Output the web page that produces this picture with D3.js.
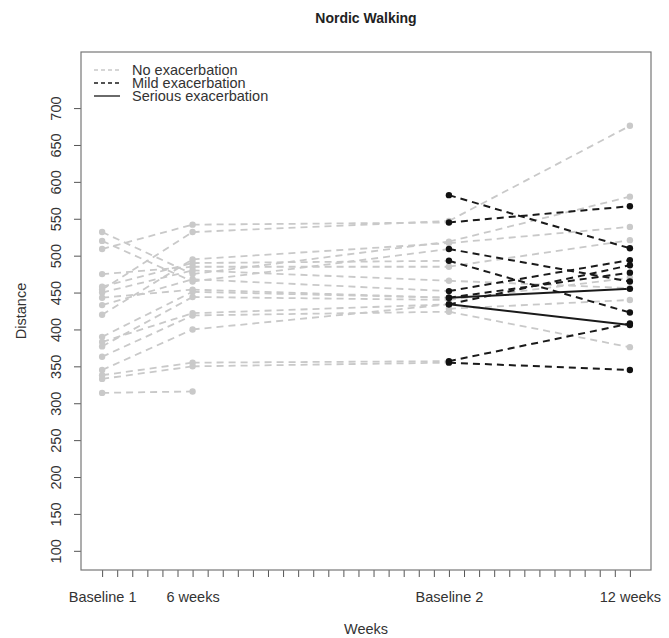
<!DOCTYPE html>
<html>
<head>
  <title>Nordic Walking</title>
<script src="https://d3js.org/d3.v7.min.js"></script>
<style>
  body { margin: 0; background: #fff; }
  text { font-family: "Liberation Sans", Arial, sans-serif; fill: #333; }
</style>
</head>

<body>
<svg width="669" height="638"></svg>
<script>

// weeks on the x axis, one tick per week, labels only on the visits
var weekTicks = d3.range(0, 36);
var visitWeeks = [0, 6, 23, 35];
var visitLabels = ["Baseline 1", "6 weeks", "Baseline 2", "12 weeks"];
var yTicks = [100, 150, 200, 250, 300, 350, 400, 450, 500, 550, 600, 650, 700];

// one entry per participant (null = not measured)
var baseline1   = [509, 454, 532, 520, 420, 458, 475, 450, 433, 443, 390, 377, 383, 363, 345, 338, 333, 314, null, null];
var sixWeeks    = [542, 532, 475, 465, 495, 490, 485, 480, 468, 454, 451, 444, 422, 419, 400, 355, 350, 316, null, null];
var baseline2   = [545, 547, 519, 509, 517, 493, 485, 466, 452, 443, 443, 440, 434, 424, 434, 357, 355, null, 582, 428];
var twelveWeeks = [567, 676, 580, 465, 539, 423, 521, 456, 494, 477, 455, 470, 406, 376, 487, 408, 345, null, 510, 440];
var exacerbation = ["mild", "none", "none", "mild", "none", "mild", "none", "none", "mild", "mild",
                    "serious", "none", "serious", "none", "mild", "mild", "mild", "none", "mild", "none"];

var legendLabels = ["No exacerbation", "Mild exacerbation", "Serious exacerbation"];

var svg = d3.select("svg"),
    boxLeft = 81, boxRight = 651, boxTop = 52, boxBottom = 570;

var x = d3.scaleLinear().domain([-1.4, 36.4]).range([boxLeft, boxRight]);
var y = d3.scaleLinear().domain([74, 776]).range([boxBottom, boxTop]);

var grey = "#c9c9c9";

// title
svg.append("text")
    .attr("x", (boxLeft + boxRight) / 2)
    .attr("y", 23)
    .attr("text-anchor", "middle")
    .style("font-size", "14px")
    .style("font-weight", "bold")
    .style("fill", "#222")
    .text("Nordic Walking");

// axes
var xAxis = d3.axisBottom(x)
    .tickValues(weekTicks)
    .tickSize(7)
    .tickFormat(function(d) {
      var i = visitWeeks.indexOf(d);
      return i < 0 ? "" : visitLabels[i];
    });

var gx = svg.append("g")
    .attr("transform", "translate(0," + boxBottom + ")")
    .call(xAxis);
gx.select(".domain").remove();
gx.selectAll("line").attr("stroke", "#555");
gx.selectAll("text")
    .attr("dy", null)
    .attr("y", 32)
    .style("font-size", "14.5px")
    .style("font-family", "Liberation Sans, Arial, sans-serif")
    .style("fill", "#333");

var yAxis = d3.axisLeft(y).tickValues(yTicks).tickSize(7);
var gy = svg.append("g")
    .attr("transform", "translate(" + boxLeft + ",0)")
    .call(yAxis);
gy.select(".domain").remove();
gy.selectAll("line").attr("stroke", "#555");
gy.selectAll("text")
    .attr("x", null)
    .attr("dy", null)
    .attr("text-anchor", "middle")
    .attr("transform", "translate(-25,0) rotate(-90)")
    .attr("y", 5)
    .style("font-size", "14.5px")
    .style("font-family", "Liberation Sans, Arial, sans-serif")
    .style("fill", "#333");

// axis titles
svg.append("text")
    .attr("x", (boxLeft + boxRight) / 2)
    .attr("y", 634)
    .attr("text-anchor", "middle")
    .style("font-size", "14.5px")
    .text("Weeks");

svg.append("text")
    .attr("transform", "translate(26," + (boxTop + boxBottom) / 2 + ") rotate(-90)")
    .attr("text-anchor", "middle")
    .style("font-size", "14.5px")
    .text("Distance");

// plot box
svg.append("rect")
    .attr("x", boxLeft).attr("y", boxTop)
    .attr("width", boxRight - boxLeft).attr("height", boxBottom - boxTop)
    .attr("fill", "none")
    .attr("stroke", "#777")
    .attr("stroke-width", 1.2);

// segments between consecutive visits
var series = [baseline1, sixWeeks, baseline2, twelveWeeks];
var segments = [];
baseline1.forEach(function(d, p) {
  for (var k = 0; k < 3; k++) {
    var a = series[k][p], b = series[k + 1][p];
    if (a == null || b == null) continue;
    segments.push({x1: visitWeeks[k], y1: a, x2: visitWeeks[k + 1], y2: b,
                   group: k == 2 ? exacerbation[p] : "none"});
  }
});

function segStyle(sel) {
  sel.attr("x1", function(d) { return x(d.x1); })
     .attr("y1", function(d) { return y(d.y1); })
     .attr("x2", function(d) { return x(d.x2); })
     .attr("y2", function(d) { return y(d.y2); })
     .attr("stroke", function(d) { return d.group == "none" ? grey : "#1a1a1a"; })
     .attr("stroke-width", function(d) { return d.group == "none" ? 1.8 : 2; })
     .attr("stroke-dasharray", function(d) { return d.group == "serious" ? null : "7,5"; });
}

svg.append("g").selectAll("line")
    .data(segments.filter(function(d) { return d.group == "none"; }))
    .enter().append("line").call(segStyle);
svg.append("g").selectAll("line")
    .data(segments.filter(function(d) { return d.group != "none"; }))
    .enter().append("line").call(segStyle);

// points
var points = [];
series.forEach(function(s, k) {
  s.forEach(function(v, p) {
    if (v == null) return;
    points.push({week: visitWeeks[k], value: v,
                 dark: k >= 2 && exacerbation[p] != "none"});
  });
});
points.sort(function(a, b) { return a.dark - b.dark; });

svg.append("g").selectAll("circle")
    .data(points)
    .enter().append("circle")
      .attr("cx", function(d) { return x(d.week); })
      .attr("cy", function(d) { return y(d.value); })
      .attr("r", 3.2)
      .attr("fill", function(d) { return d.dark ? "#111" : grey; });

// legend
var legend = svg.append("g").selectAll("g")
    .data(legendLabels)
    .enter().append("g")
      .attr("transform", function(d, i) { return "translate(0," + (70 + i * 13) + ")"; });

legend.append("line")
    .attr("x1", 94).attr("x2", 120)
    .attr("stroke", function(d, i) { return i == 0 ? grey : "#1a1a1a"; })
    .attr("stroke-width", 1.3)
    .attr("stroke-dasharray", function(d, i) { return i == 2 ? null : "4,3"; });

legend.append("text")
    .attr("x", 132)
    .attr("y", 5)
    .style("font-size", "14.5px")
    .text(function(d) { return d; });

</script>
</body>
</html>
